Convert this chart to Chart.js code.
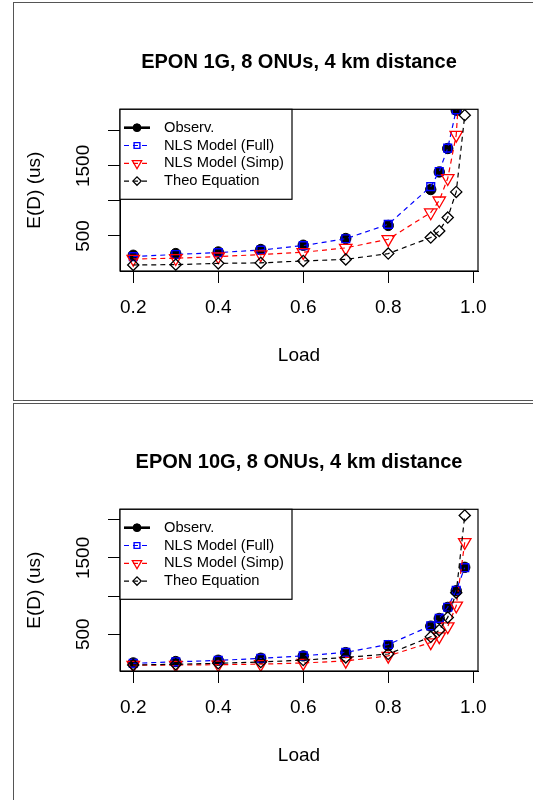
<!DOCTYPE html>
<html>
<head>
<meta charset="utf-8">
<script src="https://cdn.jsdelivr.net/npm/chart.js@4.4.1/dist/chart.umd.min.js"></script>
<style>
  html, body { margin: 0; padding: 0; background: #fff; overflow: hidden; }
  canvas { position: absolute; left: 0; }
  .frame { position: absolute; left: 13px; width: 600px; border: 1.5px solid #555; box-sizing: border-box; pointer-events: none; }
</style>
</head>
<body>
<canvas id="chart1" width="533" height="400" style="top:0"></canvas>
<canvas id="chart2" width="533" height="400" style="top:400px"></canvas>
<div class="frame" style="top:2px;height:399px"></div>
<div class="frame" style="top:403px;height:420px"></div>
<script>
// load values on the x axis
const loads = [0.2, 0.3, 0.4, 0.5, 0.6, 0.7, 0.8, 0.9, 0.92, 0.94, 0.96, 0.98];

// EPON 1G
const obs1  = [224, 248, 271, 306, 367, 463, 650, 1163, 1414, 1749, 2296, 4500];
const full1 = [205, 235, 262, 298, 362, 460, 665, 1205, 1420, 1755, 2300, 4560];
const simp1 = [171, 181, 205, 234, 267, 329, 453, 834, 1005, 1324, 1943, 3850];
const theo1 = [85, 90, 108, 115, 143, 165, 248, 477, 571, 763, 1129, 2224];

// EPON 10G
const obs2  = [123, 141, 158, 184, 215, 258, 350, 605, 706, 851, 1070, 1377];
const full2 = [118, 137, 156, 183, 216, 262, 365, 610, 708, 853, 1075, 1372];
const simp2 = [95, 95, 100, 107, 122, 149, 215, 391, 470, 601, 873, 1706];
const theo2 = [96, 105, 118, 135, 160, 195, 240, 465, 553, 720, 1045, 2057];

const seriesNames = ['Observ.', 'NLS Model (Full)', 'NLS Model (Simp)', 'Theo Equation'];

const xTickValues = [0.2, 0.4, 0.6, 0.8, 1.0];
const xTickLabels = ['0.2', '0.4', '0.6', '0.8', '1.0'];
const yTickValues = [500, 1000, 1500, 2000];
const yTickLabels = ['500', '', '1500', ''];

Chart.defaults.font.family = "'Liberation Sans', Arial, Helvetica, sans-serif";
Chart.defaults.color = '#000';

const pts = arr => loads.map((x, i) => ({x, y: arr[i]}));

// plot box like R's box()
const plotBox = {
  id: 'plotBox',
  afterDraw(chart) {
    const {ctx, chartArea: ca} = chart;
    ctx.save();
    ctx.strokeStyle = '#000';
    ctx.lineWidth = 1.2;
    ctx.strokeRect(ca.left, ca.top, ca.right - ca.left, ca.bottom - ca.top);
    ctx.restore();
  }
};

// topleft legend with line + symbol samples
const boxLegend = {
  id: 'boxLegend',
  afterDraw(chart) {
    const {ctx, chartArea: ca} = chart;
    const x0 = ca.left, y0 = ca.top;
    ctx.save();
    ctx.fillStyle = '#fff';
    ctx.fillRect(x0, y0, 172, 90);
    ctx.strokeStyle = '#000';
    ctx.lineWidth = 1.2;
    ctx.strokeRect(x0, y0, 172, 90);
    chart.data.datasets.forEach((ds, i) => {
      const y = y0 + 18.4 + i * 17.8;
      ctx.strokeStyle = ds.borderColor;
      ctx.lineWidth = ds.legendLineWidth;
      ctx.setLineDash(ds.borderDash || []);
      ctx.beginPath();
      ctx.moveTo(x0 + 4, y);
      ctx.lineTo(x0 + 30, y);
      ctx.stroke();
      ctx.setLineDash([]);
      ctx.fillStyle = ds.pointBackgroundColor;
      ctx.strokeStyle = ds.pointBorderColor;
      ctx.lineWidth = ds.pointBorderWidth;
      Chart.helpers.drawPoint(ctx, {
        pointStyle: ds.pointStyle,
        rotation: ds.pointRotation || 0,
        radius: ds.pointRadius * 0.75,
        borderWidth: ds.pointBorderWidth
      }, x0 + 17, y);
      ctx.fillStyle = '#000';
      ctx.font = "14.7px 'Liberation Sans', Arial, sans-serif";
      ctx.textBaseline = 'middle';
      ctx.fillText(seriesNames[i], x0 + 44, y);
    });
    ctx.restore();
  }
};

function makePanel(id, title, obs, full, simp, theo, yMin, yMax) {
  new Chart(document.getElementById(id), {
    type: 'line',
    data: {
      datasets: [
        {
          label: seriesNames[0], data: pts(obs), showLine: false, order: 4, clip: 0,
          borderColor: '#000', pointStyle: 'circle', pointRadius: 5.2,
          pointBackgroundColor: '#000', pointBorderColor: '#000', pointBorderWidth: 1,
          legendLineWidth: 2.6
        },
        {
          label: seriesNames[1], data: pts(full), order: 3, clip: 0,
          borderColor: '#0000ff', borderWidth: 1.2, borderDash: [5, 4],
          pointStyle: 'rect', pointRadius: 5.5,
          pointBackgroundColor: 'rgba(0,0,0,0)', pointBorderColor: '#0000ff', pointBorderWidth: 1.4,
          legendLineWidth: 1.2
        },
        {
          label: seriesNames[2], data: pts(simp), order: 2, clip: 0,
          borderColor: '#ff0000', borderWidth: 1.2, borderDash: [5, 4],
          pointStyle: 'triangle', pointRotation: 180, pointRadius: 7.2,
          pointBackgroundColor: 'rgba(0,0,0,0)', pointBorderColor: '#ff0000', pointBorderWidth: 1.3,
          legendLineWidth: 1.2
        },
        {
          label: seriesNames[3], data: pts(theo), order: 1, clip: 0,
          borderColor: '#000', borderWidth: 1.2, borderDash: [5, 4],
          pointStyle: 'rectRot', pointRadius: 5.6,
          pointBackgroundColor: 'rgba(0,0,0,0)', pointBorderColor: '#000', pointBorderWidth: 1.3,
          legendLineWidth: 1.2
        }
      ]
    },
    options: {
      responsive: false,
      animation: false,
      devicePixelRatio: 1,
      layout: { padding: { left: 0, right: 55, top: 0, bottom: 0 } },
      plugins: {
        legend: { display: false },
        tooltip: { enabled: false },
        title: {
          display: true, text: title, fullSize: false,
          font: { size: 20, weight: 'bold' },
          padding: { top: 50.5, bottom: 34.8 }
        }
      },
      scales: {
        x: {
          type: 'linear', min: 0.1688, max: 1.0112, bounds: 'data',
          afterBuildTicks: s => { s.ticks = xTickValues.map(v => ({value: v})); },
          afterFit: s => { s.height = 129; },
          ticks: {
            callback: (v, i) => xTickLabels[i],
            autoSkip: false, maxRotation: 0, minRotation: 0, padding: 13.8,
            font: { size: 19 }
          },
          grid: { drawOnChartArea: false, tickLength: 12, color: '#000' },
          border: { color: '#000' },
          title: { display: true, text: 'Load', font: { size: 19 }, padding: { top: 0, bottom: 33 } }
        },
        y: {
          type: 'linear', min: yMin, max: yMax, bounds: 'data',
          afterBuildTicks: s => { s.ticks = yTickValues.map(v => ({value: v})); },
          afterFit: s => { s.width = 120; },
          ticks: {
            callback: (v, i) => yTickLabels[i],
            autoSkip: false, minRotation: 90, maxRotation: 90, crossAlign: 'center', padding: 3.5,
            font: { size: 19 }
          },
          grid: { drawOnChartArea: false, tickLength: 12, color: '#000' },
          border: { color: '#000' },
          title: { display: true, text: 'E(D) (us)', font: { size: 19 }, padding: { top: 23.5, bottom: 0 } }
        }
      }
    },
    plugins: [plotBox, boxLegend]
  });
}

makePanel('chart1', 'EPON 1G, 8 ONUs, 4 km distance', obs1, full1, simp1, theo1, -1, 2309);
makePanel('chart2', 'EPON 10G, 8 ONUs, 4 km distance', obs2, full2, simp2, theo2, 17, 2138);
</script>
</body>
</html>
